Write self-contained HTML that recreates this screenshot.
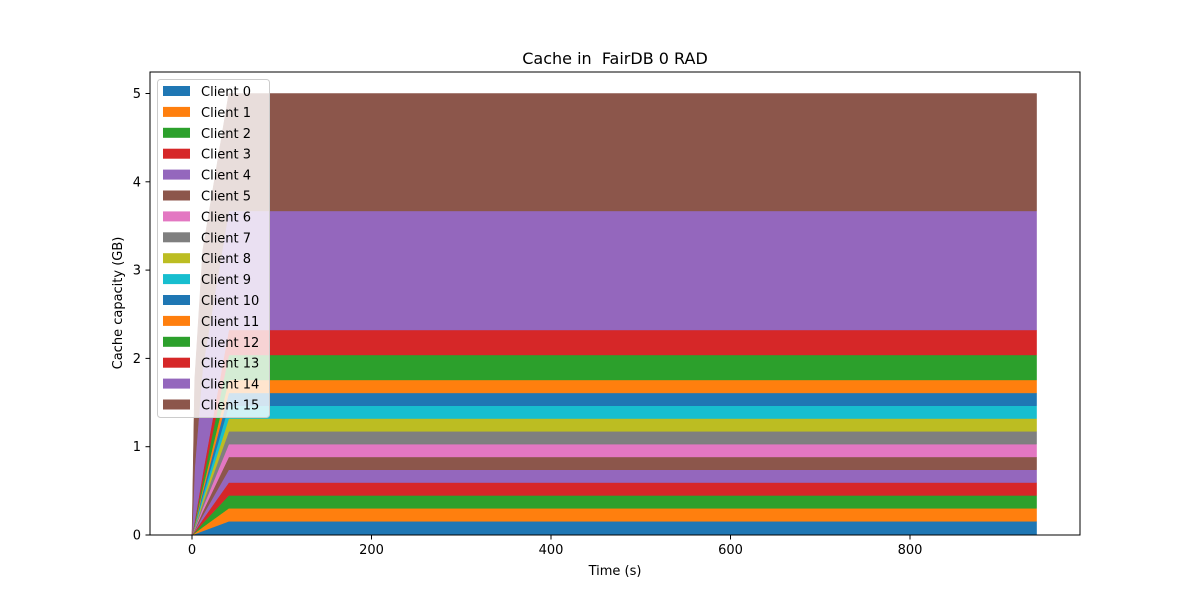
<!DOCTYPE html>
<html><head><meta charset="utf-8"><style>
body{margin:0;background:#fff;font-family:"Liberation Sans","DejaVu Sans",sans-serif;}
svg text{font-family:"DejaVu Sans","Liberation Sans",sans-serif;}
</style></head><body>
<svg id="chart" width="1200" height="600" viewBox="0 0 1200 600">
<rect width="1200" height="600" fill="#fff"/>
<text x="615" y="64" font-size="16" text-anchor="middle" style="white-space:pre" xml:space="preserve">Cache in  FairDB 0 RAD</text>
<g id="areas"></g>
<rect x="150" y="72" width="930" height="463" fill="none" stroke="#000" stroke-width="1"/>
<g id="xt"></g>
<g id="yt"></g>
<text x="615" y="575" font-size="13" text-anchor="middle">Time (s)</text>
<text x="122" y="303" font-size="13" text-anchor="middle" transform="rotate(-90 122 303)">Cache capacity (GB)</text>
<g id="legend"></g>
</svg>
<script>
const times=[0,3,12,41,941];
const clients=["Client 0","Client 1","Client 2","Client 3","Client 4","Client 5","Client 6","Client 7","Client 8","Client 9","Client 10","Client 11","Client 12","Client 13","Client 14","Client 15"];
const finalValues=[0.155,0.147,0.146,0.146,0.145,0.145,0.145,0.145,0.145,0.145,0.145,0.147,0.283,0.283,1.348,1.33];
const earlyValues3=[0.01,0.01,0.01,0.01,0.01,0.01,0.01,0.01,0.01,0.01,0.01,0.01,0.02,0.02,0.6,1.0];
const earlyValues12=[0.045,0.044,0.044,0.044,0.044,0.044,0.044,0.044,0.044,0.044,0.044,0.044,0.085,0.085,1.2,1.33];
const xTicks=[0,200,400,600,800];
const yTicks=[0,1,2,3,4,5];
const colors=["#1f77b4","#ff7f0e","#2ca02c","#d62728","#9467bd","#8c564b","#e377c2","#7f7f7f","#bcbd22","#17becf"];
const NS="http://www.w3.org/2000/svg";
const xs=t=>192+t*0.8975, ys=v=>535-v*88.3;
function mk(tag,attrs,parent){const e=document.createElementNS(NS,tag);for(const k in attrs)e.setAttribute(k,attrs[k]);parent.appendChild(e);return e;}
const series=clients.map((c,i)=>[0,earlyValues3[i],earlyValues12[i],finalValues[i],finalValues[i]]);
const areas=document.getElementById('areas');
let base=times.map(()=>0);
series.forEach((s,i)=>{
  const top=base.map((b,j)=>b+s[j]);
  let d="M"+times.map((t,j)=>xs(t)+","+ys(top[j])).join(" L");
  d+=" L"+times.slice().reverse().map((t,k)=>{const j=times.length-1-k;return xs(t)+","+ys(base[j]);}).join(" L")+"Z";
  const p=mk('path',{d:d,fill:colors[i%10],stroke:colors[i%10],'stroke-width':0.5},areas);
  
  
  base=top;
});
const xt=document.getElementById('xt');
xTicks.forEach(v=>{
  const l=mk('line',{x1:xs(v),x2:xs(v),y1:535,y2:539.5,stroke:'#000'},xt);
  
  
  const t=mk('text',{x:xs(v),y:554,'font-size':13,'text-anchor':'middle'},xt);t.textContent=v;
  
  
});
const yt=document.getElementById('yt');
yTicks.forEach(v=>{
  const l=mk('line',{x1:145.5,x2:150,y1:ys(v),y2:ys(v),stroke:'#000'},yt);
  
  
  const t=mk('text',{x:141,y:ys(v)+4.5,'font-size':13,'text-anchor':'end'},yt);t.textContent=v;
  
  
});
const lg=document.getElementById('legend');
const box=mk('rect',{x:157.5,y:79.5,width:112,height:338,rx:3,fill:'#fff','fill-opacity':0.8,stroke:'#ccc'},lg);


clients.forEach((c,i)=>{
  const y=91+i*20.9;
  const r=mk('rect',{x:163,y:y-5,width:27,height:10,fill:colors[i%10]},lg);
  
  
  const t=mk('text',{x:201,y:y+5,'font-size':13},lg);t.textContent=c;
  
  
});
</script>
</body></html>
